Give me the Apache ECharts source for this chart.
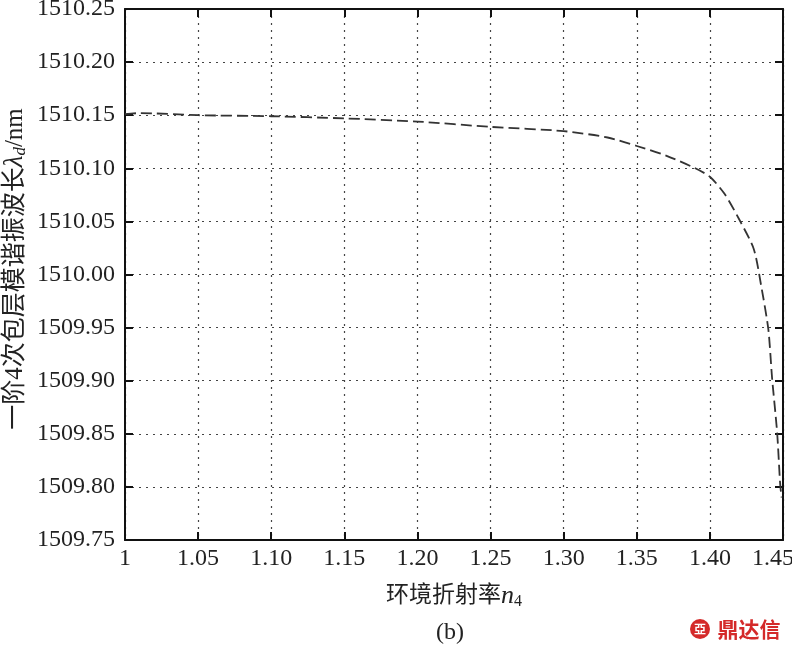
<!DOCTYPE html>
<html>
<head>
<meta charset="utf-8">
<script src="https://cdn.jsdelivr.net/npm/echarts@6/dist/echarts.min.js"></script>
<style>html,body{margin:0;padding:0;background:#fff;}#c{width:792px;height:650px;}</style>
</head>
<body>
<div id="c"></div>
<script>
var xValues = [1.00, 1.01, 1.05, 1.10, 1.15, 1.20, 1.25, 1.30, 1.33, 1.35, 1.37, 1.39, 1.40, 1.41, 1.42, 1.43, 1.435, 1.44, 1.4425, 1.446, 1.448, 1.449];
var yValues = [1510.151, 1510.152, 1510.150, 1510.149, 1510.147, 1510.144, 1510.139, 1510.135, 1510.129, 1510.121, 1510.112, 1510.100, 1510.092, 1510.076, 1510.052, 1510.024, 1509.990, 1509.948, 1509.903, 1509.851, 1509.804, 1509.790];
var xTicks = ['1', '1.05', '1.10', '1.15', '1.20', '1.25', '1.30', '1.35', '1.40', '1.45'];
var yTicks = ['1509.75', '1509.80', '1509.85', '1509.90', '1509.95', '1510.00', '1510.05', '1510.10', '1510.15', '1510.20', '1510.25'];

var serif = '"Liberation Serif", "Noto Sans CJK SC", serif';
var pts = xValues.map(function (x, i) { return [x, yValues[i]]; });

var chart = echarts.init(document.getElementById('c'), null, {renderer: 'canvas'});
var gridColor = '#444';
var axisCommon = {
  axisLine: {show: true, onZero: false, lineStyle: {color: '#111', width: 2}},
  axisTick: {show: true, inside: true, length: 8, lineStyle: {color: '#111', width: 2}},
  splitLine: {show: false}
};
chart.setOption({
  animation: false,
  backgroundColor: '#fff',
  grid: {left: 125, right: 9, top: 9, bottom: 110, containLabel: false, outerBoundsMode: 'none'},
  xAxis: [
    Object.assign({}, axisCommon, {
      type: 'value', min: 1, max: 1.45, interval: 0.05, position: 'bottom',
      axisLabel: {show: true, margin: 7, fontFamily: serif, fontSize: 24, color: '#222', hideOverlap: false,
        formatter: function (v) {
          var i = Math.round((v - 1) / 0.05);
          if (i === xTicks.length - 1) return '{r|' + xTicks[i] + '}';
          return xTicks[i] || '';
        },
        rich: {r: {fontFamily: serif, fontSize: 24, color: '#222', padding: [0, 20, 0, 0]}}
      },
      splitLine: {show: true, lineStyle: {color: gridColor, width: 1.2, type: [2, 5]}},
      name: '{a|环境折射率}{n|n}{s|4}',
      nameLocation: 'middle', nameGap: 42,
      nameTextStyle: {rich: {
        a: {fontFamily: serif, fontSize: 23, color: '#222'},
        n: {fontFamily: serif, fontSize: 26, fontStyle: 'italic', color: '#222'},
        s: {fontFamily: serif, fontSize: 16, color: '#222', padding: [12, 0, 0, 0]}
      }}
    }),
    Object.assign({}, axisCommon, {
      type: 'value', min: 1, max: 1.45, interval: 0.05, position: 'top',
      axisLabel: {show: false}
    })
  ],
  yAxis: [
    Object.assign({}, axisCommon, {
      type: 'value', min: 1509.75, max: 1510.25, interval: 0.05, position: 'left',
      axisLabel: {show: true, margin: 10, fontFamily: serif, fontSize: 24, color: '#222', hideOverlap: false,
        formatter: function (v) { var i = Math.round((v - 1509.75) / 0.05); return yTicks[i] || ''; }},
      splitLine: {show: true, lineStyle: {color: gridColor, width: 1.2, type: [2, 5]}}
    }),
    Object.assign({}, axisCommon, {
      type: 'value', min: 1509.75, max: 1510.25, interval: 0.05, position: 'right',
      axisLabel: {show: false}
    })
  ],
  series: [{
    type: 'line', data: pts, xAxisIndex: 0, yAxisIndex: 0,
    showSymbol: false, smooth: 0.25, clip: true,
    lineStyle: {color: '#333', width: 1.8, type: [11, 5]}
  }],
  graphic: [
    {
      type: 'text', x: 15, y: 269, rotation: Math.PI / 2,
      style: {
        text: '{a|一阶4次包层模谐振波长}{l|λ}{d|d}{a|/nm}',
        align: 'center', verticalAlign: 'middle',
        rich: {
          a: {fontFamily: serif, fontSize: 25, fill: '#222'},
          l: {fontFamily: serif, fontSize: 27, fontStyle: 'italic', fill: '#222'},
          d: {fontFamily: serif, fontSize: 17, fontStyle: 'italic', fill: '#222', padding: [12, 0, 0, 0]}
        }
      }
    },
    {
      type: 'text', x: 450, y: 633,
      style: {text: '(b)', font: '24px ' + serif, fill: '#222', align: 'center', verticalAlign: 'middle'}
    },
    {
      type: 'circle', shape: {cx: 700, cy: 629, r: 10}, style: {fill: '#d42a2a'}
    },
    {
      type: 'text', x: 700, y: 629,
      style: {text: '亞', font: 'bold 12px "Noto Sans CJK SC"', fill: '#fff', align: 'center', verticalAlign: 'middle'}
    },
    {
      type: 'text', x: 749, y: 629,
      style: {text: '鼎达信', font: 'bold 21px "Noto Sans CJK SC"', fill: '#d42a2a', align: 'center', verticalAlign: 'middle'}
    }
  ]
});
</script>
</body>
</html>
